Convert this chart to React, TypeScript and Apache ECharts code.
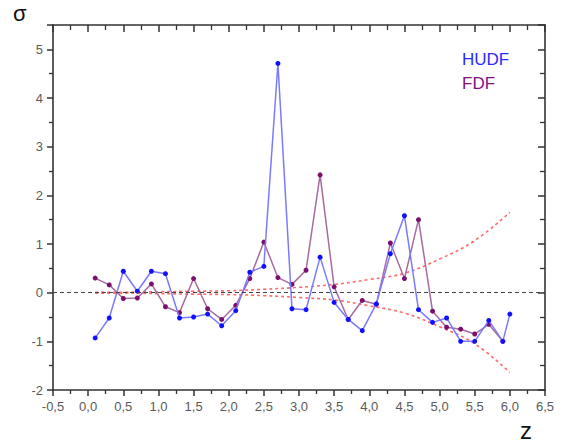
import React, { useEffect, useRef } from "react";
import * as echarts from "echarts";

// Redshift of each sample point
const Z_POINTS = [
  0.1, 0.3, 0.5, 0.7, 0.9, 1.1, 1.3, 1.5, 1.7, 1.9, 2.1, 2.3, 2.5, 2.7, 2.9,
  3.1, 3.3, 3.5, 3.7, 3.9, 4.1, 4.3, 4.5, 4.7, 4.9, 5.1, 5.3, 5.5, 5.7, 5.9,
];
// HUDF has one extra point at z = 6.0
const Z_HUDF = [...Z_POINTS, 6.0];

const HUDF = [
  -0.93, -0.52, 0.44, 0.03, 0.44, 0.39, -0.52, -0.5, -0.44, -0.68, -0.37, 0.42,
  0.54, 4.71, -0.33, -0.35, 0.73, -0.2, -0.55, -0.78, -0.23, 0.8, 1.58, -0.35,
  -0.61, -0.52, -1.0, -1.0, -0.57, -1.0, -0.44,
];

const FDF = [
  0.3, 0.16, -0.12, -0.11, 0.18, -0.29, -0.41, 0.29, -0.33, -0.55, -0.26, 0.29,
  1.04, 0.31, 0.17, 0.46, 2.42, 0.12, -0.55, -0.16, -0.24, 1.02, 0.29, 1.5,
  -0.38, -0.71, -0.75, -0.85, -0.65, -1.0,
];

// Envelope curves (dashed red)
const CURVE_Z = [0.1, 0.5, 1.0, 1.5, 2.0, 2.5, 3.0, 3.5, 4.0, 4.5, 5.0, 5.5, 6.0];
const UPPER = [0.01, 0.01, 0.02, 0.03, 0.04, 0.07, 0.11, 0.17, 0.27, 0.4, 0.69, 1.07, 1.65];
const LOWER = [-0.01, -0.01, -0.02, -0.03, -0.04, -0.06, -0.1, -0.15, -0.27, -0.42, -0.7, -1.05, -1.64];

const pairs = (xs: number[], ys: number[]) => ys.map((y, i) => [xs[i], y]);

const AXIS_COLOR = "#333";
const LABEL_COLOR = "#5a5a5a";
const FONT = "'Liberation Sans', Arial, sans-serif";

const commaLabel = (v: number) => v.toFixed(1).replace(".", ",").replace(/^-0,0$/, "0,0");

export default function App() {
  const ref = useRef<HTMLDivElement>(null);

  useEffect(() => {
    if (!ref.current) return;
    const chart = echarts.init(ref.current, undefined, { renderer: "svg" });

    const baseX = {
      type: "value" as const,
      min: -0.5,
      max: 6.5,
      interval: 0.5,
      splitLine: { show: false },
      axisLine: { show: true, onZero: false, lineStyle: { color: AXIS_COLOR, width: 1.6 } },
      minorTick: { show: true, splitNumber: 2, length: 4, lineStyle: { color: AXIS_COLOR, width: 1.3 } },
    };
    const baseY = {
      type: "value" as const,
      min: -2,
      max: 5.5,
      interval: 1,
      splitLine: { show: false },
      axisLine: { show: true, onZero: false, lineStyle: { color: AXIS_COLOR, width: 1.6 } },
      minorTick: { show: true, splitNumber: 2, length: 4, lineStyle: { color: AXIS_COLOR, width: 1.3 } },
    };

    chart.setOption({
      animation: false,
      backgroundColor: "#fff",
      grid: { left: 53, top: 25, width: 492, height: 365, containLabel: false },
      xAxis: [
        {
          ...baseX,
          position: "bottom",
          axisTick: { show: true, length: 6, lineStyle: { color: AXIS_COLOR, width: 1.5 } },
          axisLabel: {
            color: LABEL_COLOR,
            fontSize: 13,
            fontFamily: FONT,
            margin: 10,
            formatter: (v: number) => commaLabel(v),
          },
        },
        {
          ...baseX,
          position: "top",
          axisTick: { show: true, inside: true, length: 7, lineStyle: { color: AXIS_COLOR, width: 1.5 } },
          minorTick: { show: true, splitNumber: 2, length: 5, lineStyle: { color: AXIS_COLOR, width: 1.3 } },
          axisLabel: { show: false },
        },
      ],
      yAxis: [
        {
          ...baseY,
          position: "left",
          axisTick: { show: true, length: 6, lineStyle: { color: AXIS_COLOR, width: 1.5 } },
          axisLabel: {
            color: LABEL_COLOR,
            fontSize: 13,
            fontFamily: FONT,
            margin: 10,
            showMaxLabel: false,
            formatter: (v: number) => (Number.isInteger(v) ? String(v) : ""),
          },
        },
        {
          ...baseY,
          position: "right",
          axisTick: { show: true, inside: true, length: 7, lineStyle: { color: AXIS_COLOR, width: 1.5 } },
          minorTick: { show: true, splitNumber: 2, length: 5, lineStyle: { color: AXIS_COLOR, width: 1.3 } },
          axisLabel: { show: false },
        },
      ],
      legend: {
        orient: "vertical",
        left: 452,
        top: 45,
        itemWidth: 0,
        itemHeight: 0,
        itemGap: 6,
        selectedMode: false,
        data: [
          { name: "HUDF", icon: "none", textStyle: { color: "#2a2aff" } },
          { name: "FDF", icon: "none", textStyle: { color: "#850f80" } },
        ],
        textStyle: { fontSize: 17, fontFamily: FONT, lineHeight: 18 },
      },
      graphic: [
        {
          type: "text",
          left: 13,
          top: 2,
          style: { text: "σ", fontSize: 22, fontFamily: FONT, fill: "#111" },
        },
        {
          type: "text",
          left: 520,
          top: 418,
          style: { text: "z", fontSize: 24, fontFamily: FONT, fill: "#111" },
        },
      ],
      series: [
        {
          name: "upper",
          type: "line",
          data: pairs(CURVE_Z, UPPER),
          smooth: 0.4,
          showSymbol: false,
          symbol: "none",
          silent: true,
          lineStyle: { color: "#ff6a6a", width: 1.6, type: [3, 3] },
          z: 1,
          markLine: {
            silent: true,
            symbol: "none",
            label: { show: false },
            lineStyle: { color: "#444", width: 1, type: [4, 3] },
            data: [{ yAxis: 0 }],
          },
        },
        {
          name: "lower",
          type: "line",
          data: pairs(CURVE_Z, LOWER),
          smooth: 0.4,
          showSymbol: false,
          symbol: "none",
          silent: true,
          lineStyle: { color: "#ff6a6a", width: 1.6, type: [3, 3] },
          z: 1,
        },
        {
          name: "FDF",
          type: "line",
          data: pairs(Z_POINTS, FDF),
          symbol: "circle",
          symbolSize: 5,
          itemStyle: { color: "#7a0f6e" },
          lineStyle: { color: "#a66ba0", width: 1.5 },
          z: 3,
        },
        {
          name: "HUDF",
          type: "line",
          data: pairs(Z_HUDF, HUDF),
          symbol: "circle",
          symbolSize: 5,
          itemStyle: { color: "#1010ff" },
          lineStyle: { color: "#7a7aff", width: 1.5 },
          z: 4,
        },
      ],
    });

    return () => chart.dispose();
  }, []);

  return <div ref={ref} style={{ width: 580, height: 448, position: "absolute", left: 0, top: 0 }} />;
}
